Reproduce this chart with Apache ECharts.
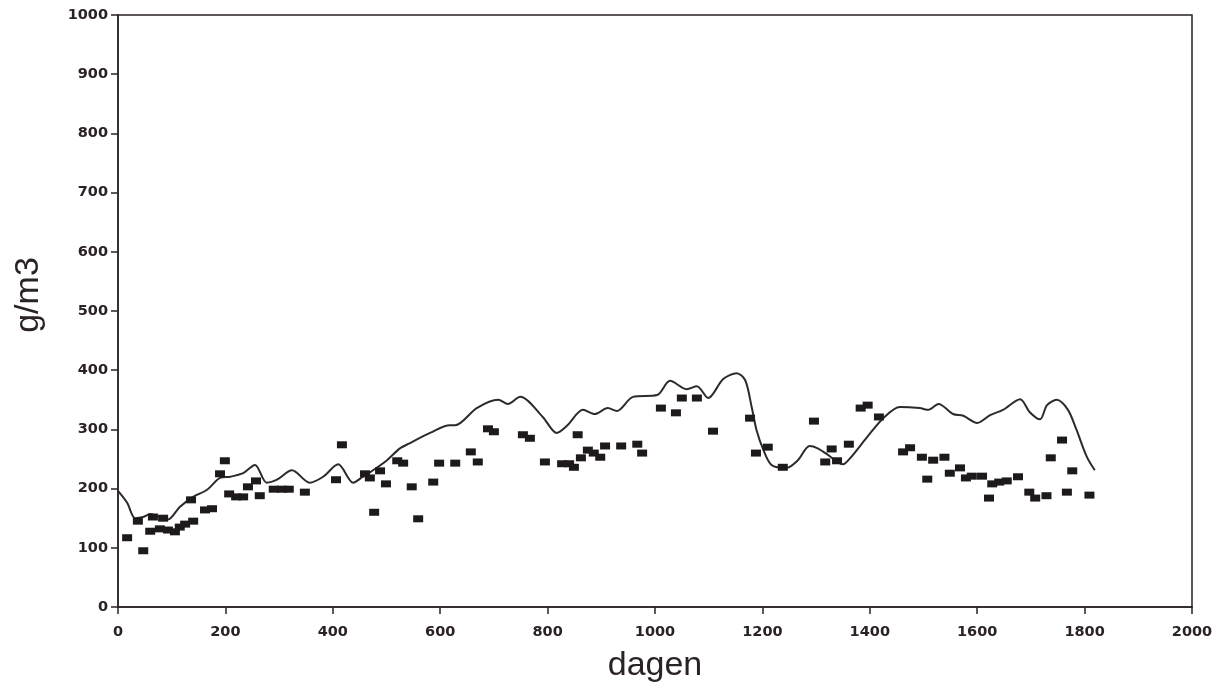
<!DOCTYPE html>
<html>
<head>
<meta charset="utf-8">
<script src="https://cdn.jsdelivr.net/npm/echarts@6/dist/echarts.min.js"></script>
<style>
  html, body { margin: 0; padding: 0; background: #fff; }
  #chart { width: 1227px; height: 689px; }
</style>
</head>
<body>
<div id="chart"></div>
<script>
// gemeten waarden (dag, g/m3)
var meetDagen = [17, 37, 47, 60, 65, 78, 84, 93, 106, 115, 125, 136, 140, 162, 175, 190, 199, 207, 220, 233,
  242, 257, 264, 290, 305, 318, 348, 406, 417, 460, 469, 477, 488, 499, 520, 531, 547, 559, 587, 598,
  628, 657, 670, 689, 700, 754, 767, 795, 827, 840, 849, 856, 862, 875, 886, 898, 907, 937, 967, 976,
  1011, 1039, 1050, 1078, 1108, 1177, 1188, 1210, 1238, 1296, 1317, 1329, 1339, 1361, 1383, 1396, 1417,
  1462, 1475, 1497, 1507, 1518, 1539, 1549, 1568, 1579, 1590, 1609, 1622, 1628, 1641, 1655, 1676, 1697,
  1708, 1729, 1737, 1758, 1767, 1777, 1809];
var meetWaarden = [117, 145, 95, 128, 152, 132, 150, 130, 127, 135, 140, 181, 145, 164, 166, 225, 247, 191, 186, 186,
  203, 213, 188, 199, 199, 199, 194, 215, 274, 225, 218, 160, 230, 208, 247, 243, 203, 149, 211, 243,
  243, 262, 245, 301, 296, 291, 285, 245, 242, 242, 236, 291, 252, 265, 260, 253, 272, 272, 275, 260,
  336, 328, 353, 353, 297, 319, 260, 270, 236, 314, 245, 267, 247, 275, 336, 341, 321,
  262, 269, 253, 216, 248, 253, 226, 235, 218, 221, 221, 184, 208, 211, 213, 220, 194,
  184, 188, 252, 282, 194, 230, 189];

// berekende lijn (dag, g/m3)
var lijnDagen = [0, 17, 32, 47, 60, 78, 93, 115, 140, 166, 190, 209, 233, 255, 277, 296, 324, 357, 382, 410,
  438, 456, 475, 501, 525, 544, 581, 618, 628, 668, 708, 726, 749, 791, 817, 836, 866, 888, 912, 929,
  959, 1004, 1028, 1059, 1078, 1099, 1127, 1152, 1168, 1180, 1189, 1202, 1217, 1245, 1266, 1288, 1303,
  1322, 1350, 1363, 1395, 1425, 1456, 1493, 1509, 1528, 1555, 1574, 1600, 1624, 1648, 1680, 1698, 1717,
  1730, 1748, 1769, 1785, 1804, 1819];
var lijnWaarden = [196, 176, 150, 152, 157, 152, 148, 169, 186, 198, 218, 220, 226, 240, 210, 215, 231, 210, 220, 241,
  210, 220, 231, 248, 268, 277, 294, 307, 307, 336, 350, 343, 355, 321, 294, 306, 333, 326, 336, 331,
  355, 358, 382, 368, 373, 353, 385, 395, 383, 338, 299, 265, 240, 235, 248, 272, 268,
  257, 241, 251, 287, 319, 338, 336, 333, 343, 326, 323, 311, 324, 333, 351, 329, 317,
  341, 350, 333, 299, 254, 231];

var xTicks = [0, 200, 400, 600, 800, 1000, 1200, 1400, 1600, 1800, 2000];
var yTicks = [0, 100, 200, 300, 400, 500, 600, 700, 800, 900, 1000];

var chart = echarts.init(document.getElementById('chart'));

var labelStyle = {
  color: '#2a2226',
  fontFamily: 'DejaVu Sans, Verdana, sans-serif',
  fontWeight: 'bold',
  fontSize: 14.5,
  formatter: function (v) { return String(v); }
};

var option = {
  animation: false,
  grid: {
    left: 118,
    right: 35,
    top: 15,
    bottom: 82,
    containLabel: false,
    outerBoundsMode: 'none',
    show: true,
    borderColor: '#2a2226',
    borderWidth: 1.5
  },
  xAxis: {
    type: 'value',
    min: xTicks[0],
    max: xTicks[xTicks.length - 1],
    interval: 200,
    name: 'dagen',
    nameLocation: 'middle',
    nameGap: 42,
    nameTextStyle: { fontSize: 34, color: '#2a2226', fontFamily: 'Liberation Sans, Arial, sans-serif' },
    axisLine: { lineStyle: { color: '#2a2226', width: 1.5 } },
    axisTick: { length: 7, lineStyle: { color: '#2a2226', width: 1.5 } },
    axisLabel: Object.assign({ margin: 18 }, labelStyle),
    splitLine: { show: false }
  },
  yAxis: {
    type: 'value',
    min: yTicks[0],
    max: yTicks[yTicks.length - 1],
    interval: 100,
    name: 'g/m3',
    nameLocation: 'middle',
    nameGap: 72,
    nameRotate: 90,
    nameTextStyle: {
      fontSize: 34,
      color: '#2a2226',
      fontFamily: 'Liberation Sans, Arial, sans-serif',
      padding: [0, 0, 0, 32]
    },
    axisLine: { lineStyle: { color: '#2a2226', width: 1.5 } },
    axisTick: { length: 7, lineStyle: { color: '#2a2226', width: 1.5 } },
    axisLabel: Object.assign({ margin: 10 }, labelStyle),
    splitLine: { show: false }
  },
  series: [
    {
      type: 'line',
      data: lijnDagen.map(function (d, i) { return [d, lijnWaarden[i]]; }),
      smooth: 0.3,
      showSymbol: false,
      lineStyle: { color: '#2e2a2c', width: 2 },
      z: 2
    },
    {
      type: 'scatter',
      data: meetDagen.map(function (d, i) { return [d, meetWaarden[i]]; }),
      symbol: 'rect',
      symbolSize: [10, 7],
      itemStyle: { color: '#1e1a1c', opacity: 1 },
      z: 3
    }
  ]
};

chart.setOption(option);
</script>
</body>
</html>
